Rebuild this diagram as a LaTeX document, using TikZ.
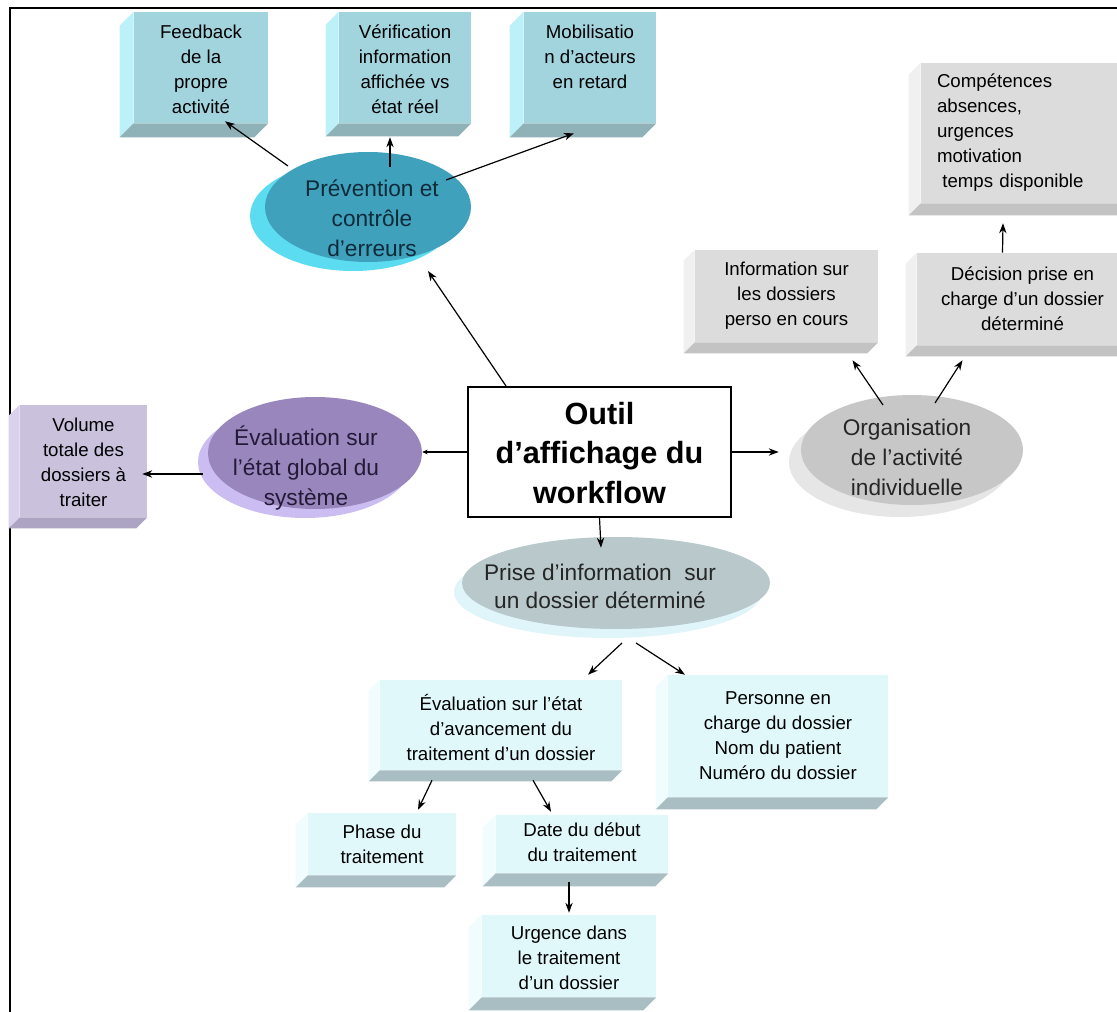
\documentclass[tikz,border=0pt]{standalone}
\usepackage{fontspec}
\setmainfont{Liberation Sans}
\usetikzlibrary{calc,fit,shapes.geometric,arrows.meta}

\definecolor{tcF}{HTML}{A2D4DE}
\definecolor{tcL}{HTML}{BDF1F9}
\definecolor{tcB}{HTML}{8EB2B8}
\definecolor{grF}{HTML}{DCDCDC}
\definecolor{grL}{HTML}{F0F0F0}
\definecolor{grB}{HTML}{C3C3C3}
\definecolor{puF}{HTML}{CAC1DD}
\definecolor{puL}{HTML}{DAD2EC}
\definecolor{puB}{HTML}{ADA4C3}
\definecolor{lcF}{HTML}{E1F8FB}
\definecolor{lcL}{HTML}{F0FCFD}
\definecolor{lcB}{HTML}{A9BEC2}
\definecolor{prevF}{HTML}{3FA1BC}
\definecolor{prevS}{HTML}{5CDCF0}
\definecolor{prevT}{HTML}{0F2B3A}
\definecolor{evalF}{HTML}{9886BC}
\definecolor{evalS}{HTML}{CBBDF1}
\definecolor{evalT}{HTML}{231A38}
\definecolor{orgF}{HTML}{C7C7C7}
\definecolor{orgS}{HTML}{E6E6E6}
\definecolor{priseF}{HTML}{B8C8CB}
\definecolor{priseS}{HTML}{DFF5F9}

\newcommand\bxfont{\fontsize{14pt}{18.75pt}\selectfont}
\newcommand\elfont{\fontsize{17pt}{22.5pt}\selectfont}

% #1 text-node options, #2 name, #3 corner, #4 corner, #5 depth, #6 colour family, #7 text
\newcommand\tdbox[7][]{%
  \node[boxface, fill=#6F, fit={#3 #4}] (#2) {};
  \fill[#6L] (#2.north west) -- (#2.south west) -- ++(-#5,#5) -- ($(#2.north west)+(-#5,#5)$) -- cycle;
  \fill[#6B] (#2.south west) -- (#2.south east) -- ++(-#5,#5) -- ($(#2.south west)+(-#5,#5)$) -- cycle;
  \node[boxtext, #1] (#2t) at (#2.center) {#7};
}

\begin{document}
\begin{tikzpicture}[x=0.75pt, y=-0.75pt,
  boxface/.style={inner sep=0pt, draw=none},
  boxtext/.style={inner sep=0pt, align=center, font=\bxfont, text=black},
  ellnode/.style={ellipse, inner sep=0pt, draw=none},
  elltext/.style={align=center, font=\elfont, inner sep=0pt},
  arr/.style={draw=black, line width=0.9pt, -{Stealth[length=7.5pt,width=5.5pt]}},
  arrs/.style={draw=black, line width=0.9pt, -{Stealth[length=4pt,width=3.5pt]}}]

\useasboundingbox (0,0) rectangle (1117,1012);
\fill[white] (0,0) rectangle (1117,1012);
\draw[line width=1.5pt] (10,1012) -- (10,8) -- (1117,8);

% 3D boxes
\tdbox[yshift=-1pt]{fb}{(134,12)}{(268,123)}{14}{tc}{Feedback\\de la\\propre\\activité}
\tdbox[yshift=-1pt]{ver}{(339,12)}{(471,123)}{13}{tc}{Vérification\\information\\affichée vs\\état réel}
\tdbox[yshift=8pt]{mob}{(524,12)}{(656,123)}{14}{tc}{Mobilisatio\\n d'acteurs\\en retard}
\tdbox[text width=132.75pt, align=left]{comp}{(921,63)}{(1130,203)}{12}{gr}{Compétences\\absences,\\urgences\\motivation\\\hspace*{4pt}temps disponible}
\tdbox{info}{(695,250)}{(878,342)}{11}{gr}{Information sur\\les dossiers\\perso en cours}
\tdbox{dec}{(917,253)}{(1128,345)}{11}{gr}{Décision prise en\\charge d'un dossier\\déterminé}
\tdbox[yshift=-1pt]{vol}{(20,405)}{(147,517)}{11}{pu}{Volume\\totale des\\dossiers à\\traiter}
\tdbox[yshift=-2pt]{eva}{(380,680)}{(622,770)}{11}{lc}{Évaluation sur l'état\\d'avancement du\\traitement d'un dossier}
\tdbox{pers}{(668,675)}{(888,797)}{12}{lc}{Personne en\\charge du dossier\\Nom du patient\\Numéro du dossier}
\tdbox{phase}{(308,813)}{(456,875)}{12}{lc}{Phase du\\traitement}
\tdbox[yshift=1pt]{date}{(496,815)}{(668,873)}{13}{lc}{Date du début\\du traitement}
\tdbox[yshift=-1pt]{urg}{(482,915)}{(656,997)}{13}{lc}{Urgence dans\\le traitement\\d'un dossier}

% ellipses
\fill[prevS] (353,216) ellipse [x radius=77.25pt, y radius=41.25pt];
\node[ellnode, fill=prevF, minimum width=154.5pt, minimum height=82.5pt] (prev) at (368,207) {};
\node[elltext, text=prevT] (prevt) at (372,218) {Prévention et\\contrôle\\d'erreurs};

\fill[evalS] (305,462) ellipse [x radius=80.25pt, y radius=42pt];
\node[ellnode, fill=evalF, minimum width=160.5pt, minimum height=84pt] (eval) at (315,453) {};
\node[elltext, text=evalT] (evalt) at (306,468) {Évaluation sur\\l'état global du\\système};

\fill[orgS] (900,462) ellipse [x radius=83.25pt, y radius=41.25pt];
\node[ellnode, fill=orgF, minimum width=166.5pt, minimum height=82.5pt] (org) at (912,450) {};
\node[elltext, text=black!85] (orgt) at (907,457) {Organisation\\de l'activité\\individuelle};

\fill[priseS] (608,592) ellipse [x radius=115.5pt, y radius=34.5pt];
\node[ellnode, fill=priseF, minimum width=231pt, minimum height=69pt] (prise) at (616,583) {};
\node[elltext, font=\fontsize{17pt}{21pt}\selectfont, text=black!85] (priset) at (600,586) {Prise d'information\ \ sur\\un dossier déterminé};

% central box
\node[draw=black, line width=1.5pt, fill=white, inner sep=0pt, fit={(468,387) (731,517)}] (main) {};
\node[align=center, inner sep=0pt, font=\bfseries\fontsize{23pt}{29.5pt}\selectfont] (maint) at ($(main.center)+(0,1)$) {Outil\\d’affichage du\\workflow};

% connectors
\draw[arr] ($(main.north west)+(39,0)$) -- ($(prev.center)+(60,64)$);
\draw[arr] ($(prev.center)+(-80,-41)$) -- ($(fb.south)+(24,-2)$);
\draw[arr] ($(prev.center)+(22,-40)$) -- ($(ver.south)+(-15,14)$);
\draw[arr] ($(prev.center)+(78,-27)$) -- ($(mob.south)+(-16,10)$);
\draw[arrs] (main.west) -- (main.west -| eval.east);
\draw[arr] ($(eval.center)+(-112,21)$) -- ($(vol.east)+(-5,13)$);
\draw[arr] (main.east) -- (main.east -| {$(org.west)+(-22,0)$});
\draw[arr] ($(org.center)+(-29,-45)$) -- ($(info.south)+(66,18)$);
\draw[arr] ($(org.center)+(23,-47)$) -- ($(dec.south)+(-60,15)$);
\draw[arr] ($(dec.north)+(-20,0)$) -- ($(comp.south)+(-22.5,20)$);
\draw[arr] (main.south) -- ($(prise.north)+(-15,11)$);
\draw[arr] ($(prise.center)+(6,60)$) -- ($(eva.north)+(87,-5)$);
\draw[arr] ($(prise.center)+(20,60)$) -- ($(pers.north)+(-93,0)$);
\draw[arr] ($(eva.south)+(-69,10)$) -- ($(phase.north)+(36,-3)$);
\draw[arr] ($(eva.south)+(32,10)$) -- ($(date.north)+(-31,-3)$);
\draw[arr] ($(date.south)+(-13,9)$) -- ($(urg.north)+(0,-2)$);
\end{tikzpicture}
\end{document}
